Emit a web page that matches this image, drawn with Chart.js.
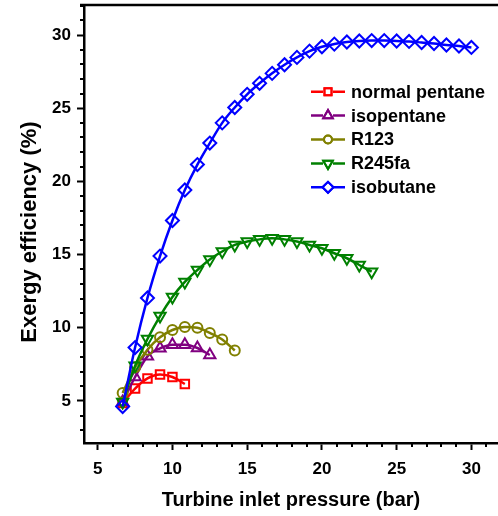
<!DOCTYPE html>
<html>
<head>
<meta charset="utf-8">
<script src="https://cdn.jsdelivr.net/npm/chart.js@4.4.1/dist/chart.umd.min.js"></script>
<style>
  html, body { margin: 0; padding: 0; background: #fff; }
</style>
</head>
<body>
<canvas id="chart" width="498" height="516"></canvas>
<script>
// values
const pentaneP = [6.67, 7.50, 8.33, 9.17, 10.00, 10.83];
const pentaneEff = [4.86, 5.85, 6.54, 6.81, 6.64, 6.16];

const isopentaneP = [6.67, 7.50, 8.33, 9.17, 10.00, 10.83, 11.67, 12.50];
const isopentaneEff = [4.93, 6.64, 8.05, 8.60, 8.85, 8.85, 8.62, 8.14];

const r123P = [6.67, 7.50, 8.33, 9.17, 10.00, 10.83, 11.67, 12.50, 13.33, 14.17];
const r123Eff = [5.55, 7.30, 8.50, 9.35, 9.85, 10.05, 10.00, 9.65, 9.20, 8.45];

const r245faP = [6.67, 7.50, 8.33, 9.17, 10.00, 10.83, 11.67, 12.50, 13.33, 14.17, 15.00,
                 15.83, 16.67, 17.50, 18.33, 19.17, 20.00, 20.83, 21.67, 22.50, 23.33];
const r245faEff = [4.93, 7.40, 9.23, 10.80, 12.10, 13.13, 13.95, 14.67, 15.21, 15.66, 15.89,
                   16.04, 16.11, 16.04, 15.89, 15.66, 15.43, 15.09, 14.75, 14.29, 13.83];

const isobutaneP = [6.67, 7.50, 8.33, 9.17, 10.00, 10.83, 11.67, 12.50, 13.33, 14.17, 15.00,
                    15.83, 16.67, 17.50, 18.33, 19.17, 20.00, 20.83, 21.67, 22.50, 23.33,
                    24.17, 25.00, 25.83, 26.67, 27.50, 28.33, 29.17, 30.00];
const isobutaneEff = [4.62, 8.65, 12.04, 14.90, 17.33, 19.41, 21.15, 22.62, 24.00, 25.05, 25.95,
                      26.70, 27.38, 27.97, 28.47, 28.90, 29.20, 29.38, 29.52, 29.59, 29.62,
                      29.62, 29.59, 29.56, 29.49, 29.42, 29.32, 29.25, 29.15];

const xTicks = [5, 10, 15, 20, 25, 30];
const yTicks = [5, 10, 15, 20, 25, 30];

const FONT = "'Liberation Sans', Arial, sans-serif";

function toPoints(xs, ys) {
    return xs.map((x, i) => ({ x: x, y: ys[i] }));
}

function series(label, xs, ys, color, style, radius, rotation, order) {
    return {
        label: label,
        data: toPoints(xs, ys),
        borderColor: color,
        backgroundColor: 'rgba(0,0,0,0)',
        borderWidth: 2.5,
        pointStyle: style,
        pointRadius: radius,
        pointRotation: rotation,
        pointBorderWidth: 2,
        pointBorderColor: color,
        pointBackgroundColor: 'rgba(0,0,0,0)',
        tension: 0.4,
        cubicInterpolationMode: 'monotone',
        order: order
    };
}

const datasets = [
    series('normal pentane', pentaneP, pentaneEff, '#ff0000', 'rect', 6, 0, 4),
    series('isopentane', isopentaneP, isopentaneEff, '#800080', 'triangle', 6.5, 0, 3),
    series('R123', r123P, r123Eff, '#808000', 'circle', 5, 0, 2),
    series('R245fa', r245faP, r245faEff, '#008000', 'triangle', 6.5, 180, 1),
    series('isobutane', isobutaneP, isobutaneEff, '#0000ff', 'rectRot', 6.5, 0, 0)
];

// minor ticks, top border line, y title and the legend inside the plot
const extras = {
    id: 'extras',
    afterDraw(chart) {
        const ctx = chart.ctx;
        const area = chart.chartArea;
        const xs = chart.scales.x;
        const ys = chart.scales.y;
        ctx.save();
        ctx.strokeStyle = '#000';
        ctx.lineWidth = 2;
        for (let v = 4; v <= 31; v++) {
            if (v % 5 === 0) continue;
            const px = Math.round(xs.getPixelForValue(v));
            if (px < area.left) continue;
            ctx.beginPath();
            ctx.moveTo(px, area.bottom);
            ctx.lineTo(px, area.bottom + 4);
            ctx.stroke();
        }
        for (let v = 3; v <= 32; v++) {
            if (v % 5 === 0) continue;
            const py = Math.round(ys.getPixelForValue(v));
            if (py < area.top) continue;
            ctx.beginPath();
            ctx.moveTo(area.left - 4, py);
            ctx.lineTo(area.left, py);
            ctx.stroke();
        }
        ctx.lineWidth = 2.5;
        ctx.beginPath();
        ctx.moveTo(area.left - 4, area.top);
        ctx.lineTo(area.right, area.top);
        ctx.stroke();

        // y axis title
        ctx.save();
        ctx.translate(30, 232);
        ctx.rotate(-Math.PI / 2);
        ctx.font = 'bold 22px ' + FONT;
        ctx.fillStyle = '#000';
        ctx.textAlign = 'center';
        ctx.textBaseline = 'middle';
        ctx.fillText('Exergy efficiency (%)', 0, 0);
        ctx.restore();

        // legend
        const rows = [91.7, 115.6, 139.5, 163.4, 187.3];
        ctx.font = 'bold 18px ' + FONT;
        ctx.textBaseline = 'middle';
        ctx.textAlign = 'left';
        chart.data.datasets.forEach((ds, i) => {
            const y = rows[i];
            ctx.strokeStyle = ds.borderColor;
            ctx.lineWidth = 2.5;
            ctx.beginPath();
            ctx.moveTo(311, y);
            ctx.lineTo(345, y);
            ctx.stroke();
            // white under the marker so the legend symbol looks open
            ctx.fillStyle = '#fff';
            ctx.fillRect(323, y - 4, 10, 8);
            ctx.lineWidth = 2;
            Chart.helpers.drawPoint(ctx, {
                pointStyle: ds.pointStyle,
                radius: ds.pointRadius - 1,
                rotation: ds.pointRotation,
                borderWidth: 2
            }, 328, y);
            ctx.stroke();
            ctx.fillStyle = '#000';
            ctx.fillText(ds.label, 351, y + 1);
        });
        ctx.restore();
    }
};

new Chart(document.getElementById('chart').getContext('2d'), {
    type: 'line',
    data: { datasets: datasets },
    options: {
        responsive: false,
        animation: false,
        devicePixelRatio: 1,
        layout: { autoPadding: false, padding: { top: 5, right: 0, left: 0, bottom: 0 } },
        plugins: {
            legend: { display: false },
            tooltip: { enabled: false }
        },
        scales: {
            x: {
                type: 'linear',
                min: 4.084,
                max: 31.78,
                afterBuildTicks: s => { s.ticks = xTicks.map(v => ({ value: v })); },
                afterFit: s => { s.height = 73; s.paddingLeft = 0; s.paddingRight = 0; },
                ticks: {
                    color: '#000',
                    font: { family: FONT, size: 17, weight: 'bold' },
                    padding: 9,
                    maxRotation: 0
                },
                grid: {
                    drawOnChartArea: false,
                    tickLength: 7,
                    tickWidth: 2,
                    tickColor: '#000'
                },
                border: { display: true, color: '#000', width: 2.5 },
                title: {
                    display: true,
                    text: 'Turbine inlet pressure (bar)',
                    color: '#000',
                    font: { family: FONT, size: 20, weight: 'bold' },
                    padding: { top: 0, bottom: 4 }
                }
            },
            y: {
                type: 'linear',
                min: 2.13,
                max: 32.05,
                afterBuildTicks: s => { s.ticks = yTicks.map(v => ({ value: v })); },
                afterFit: s => { s.width = 84; s.paddingTop = 0; s.paddingBottom = 0; },
                ticks: {
                    color: '#000',
                    font: { family: FONT, size: 17, weight: 'bold' },
                    padding: 6
                },
                grid: {
                    drawOnChartArea: false,
                    tickLength: 7,
                    tickWidth: 2,
                    tickColor: '#000'
                },
                border: { display: true, color: '#000', width: 2.5 },
                title: { display: false }
            }
        }
    },
    plugins: [extras]
});
</script>
</body>
</html>
